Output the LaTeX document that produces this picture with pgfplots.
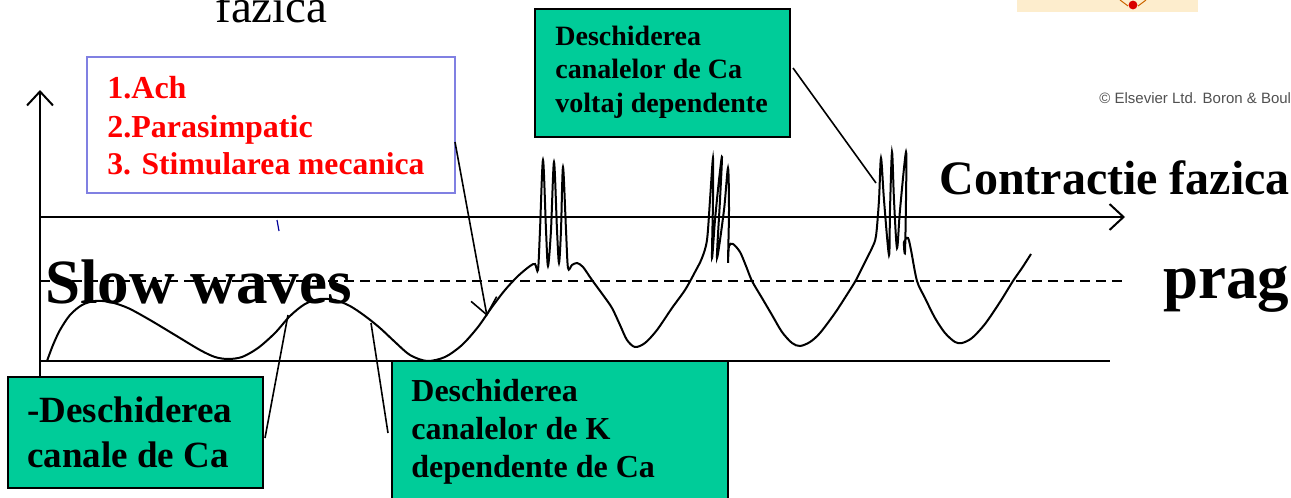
\documentclass[border=0pt]{standalone}
\usepackage{pgfplots}
\pgfplotsset{compat=1.18}
\usepackage{fontspec}
\setmainfont{Liberation Serif}
\newfontfamily\sansf{Liberation Sans}
\usetikzlibrary{arrows.meta}
\definecolor{boxgreen}{RGB}{0,204,153}
\definecolor{boxblue}{RGB}{128,128,226}
\definecolor{txtred}{RGB}{255,0,0}
\definecolor{beige}{RGB}{253,237,205}
\definecolor{cgray}{RGB}{80,80,80}
\newcommand{\fs}[1]{\fontsize{#1}{#1}\selectfont}
\begin{document}
\begin{tikzpicture}
\begin{axis}[scale only axis, width=645.5pt, height=249pt,
  xmin=0, xmax=1291, ymin=0, ymax=498, y dir=reverse,
  hide axis, clip=false]
% axes
\addplot[black, line width=1pt, -{Straight Barb[length=7pt,width=13pt]}] coordinates {(40,377) (40,90)};
\addplot[black, line width=1pt, -{Straight Barb[length=7pt,width=13pt]}] coordinates {(40,217) (1125,217)};
\addplot[black, line width=1pt] coordinates {(40,361) (1110,361)};
\addplot[black, line width=0.8pt, dash pattern=on 5pt off 3pt] coordinates {(40,281) (1128,281)};
% slow waves and spikes
\addplot[black, line width=1pt, smooth, tension=0.5] coordinates {
(47,361) (53,345) (60,330) (70,315) (82,305) (95,301) (110,302) (128,308) (150,320) (175,335) (200,350) (215,357) (228,359) (242,357) (258,348) (275,333) (290,316) (305,304) (320,299) (335,300) (350,306) (365,316) (380,328) (395,342) (410,355) (427,361) (445,357) (462,345) (478,327) (492,307) (505,290) (518,276) (530,266) (535,264) (538,270)
(540,230) (543,160) (546,230) (548,266) (551,230) (554,162) (557,230) (559,263) (561,230) (563,167) (566,230) (568,268) (572,265) (577,263) (583,267) (592,280) (603,295) (612,308) (620,325) (627,340) (635,347) (645,343) (657,330) (672,308) (685,290) (695,272) (702,258) (707,240)
(710,200) (713,158) (713,200) (712,258) (715,220) (719,180) (722,157) (720,200) (717,258) (724,210) (728,168) (729,210) (728,262) (729,246) (733,244) (740,252) (746,266) (752,281) (762,298) (772,315) (782,332) (792,343) (800,346) (810,342) (820,333) (835,313) (848,293) (856,280) (865,262) (872,248) (876,236)
(879,200) (881,158) (884,200) (889,255) (890,210) (892,152) (894,200) (897,248) (900,210) (906,152) (906,200) (905,252) (904,242) (908,238) (911,250) (917,281) (925,298) (935,318) (945,333) (955,342) (962,343) (972,338) (985,324) (1000,302) (1013,281) (1022,268) (1031,254)
};
% top-left leftover text
\node[anchor=base west, inner sep=0] at (axis cs:215,22) {\fs{23.5}fazica};
% blue box with red text
\draw[boxblue, line width=1pt] (axis cs:87,57) rectangle (axis cs:455,193);
\node[anchor=base west, inner sep=0, txtred] at (axis cs:107,98) {\fs{16}\bfseries 1.Ach};
\node[anchor=base west, inner sep=0, txtred] at (axis cs:107,137) {\fs{16}\bfseries 2.Parasimpatic};
\node[anchor=base west, inner sep=0, txtred] at (axis cs:107,174) {\fs{15.8}\bfseries 3. Stimularea mecanica};
% top green box
\draw[black, line width=1.2pt, fill=boxgreen] (axis cs:535,9) rectangle (axis cs:790,137);
\node[anchor=base west, inner sep=0] at (axis cs:555,45) {\fs{14}\bfseries Deschiderea};
\node[anchor=base west, inner sep=0] at (axis cs:555,78) {\fs{14}\bfseries canalelor de Ca};
\node[anchor=base west, inner sep=0] at (axis cs:555,112) {\fs{14}\bfseries voltaj dependente};
% bottom-left green box
\draw[black, line width=1.2pt, fill=boxgreen] (axis cs:8,377) rectangle (axis cs:263,488);
\node[anchor=base west, inner sep=0] at (axis cs:27,422) {\fs{18.5}\bfseries -Deschiderea};
\node[anchor=base west, inner sep=0] at (axis cs:27,467) {\fs{18.5}\bfseries canale de Ca};
% bottom-middle green box
\draw[black, line width=1.2pt, fill=boxgreen] (axis cs:392,361) rectangle (axis cs:728,510);
\node[anchor=base west, inner sep=0] at (axis cs:411,401) {\fs{16}\bfseries Deschiderea};
\node[anchor=base west, inner sep=0] at (axis cs:411,439) {\fs{16}\bfseries canalelor de K};
\node[anchor=base west, inner sep=0] at (axis cs:411,477) {\fs{16}\bfseries dependente de Ca};
% pointer lines
\draw[black, line width=0.8pt] (axis cs:265,438) -- (axis cs:288,315);
\draw[black, line width=0.8pt] (axis cs:388,433) -- (axis cs:371,323);
\draw[black, line width=0.8pt, -{Straight Barb[length=8pt,width=13pt]}] (axis cs:455,142) -- (axis cs:487,316);
\draw[black, line width=0.8pt] (axis cs:793,68) -- (axis cs:876,183);
\draw[blue!60!black, line width=0.6pt] (axis cs:277,220) -- (axis cs:279,231);
% big labels
\node[anchor=base west, inner sep=0] at (axis cs:45,303) {\fs{31.5}\bfseries Slow waves};
\node[anchor=base west, inner sep=0] at (axis cs:1163,298) {\fs{31.5}\bfseries prag};
\node[anchor=base west, inner sep=0] at (axis cs:939,194) {\fs{24}\bfseries Contractie fazica};
% top-right remnant figure and copyright
\fill[beige] (axis cs:1017,0) rectangle (axis cs:1198,12);
\draw[orange!80!black, line width=0.5pt] (axis cs:1120,0) -- (axis cs:1128,6);
\draw[orange!80!black, line width=0.5pt] (axis cs:1146,0) -- (axis cs:1138,6);
\fill[red!85!black] (axis cs:1133,5) circle[radius=2.2pt];
\node[anchor=base west, inner sep=0, cgray] at (axis cs:1099,103) {\sansf\fs{7.5}\textcopyright\ Elsevier Ltd. Boron \& Boulpaep};
\end{axis}
\pgfresetboundingbox
\useasboundingbox (current axis.south west) rectangle (current axis.north east);
\end{tikzpicture}
\end{document}
